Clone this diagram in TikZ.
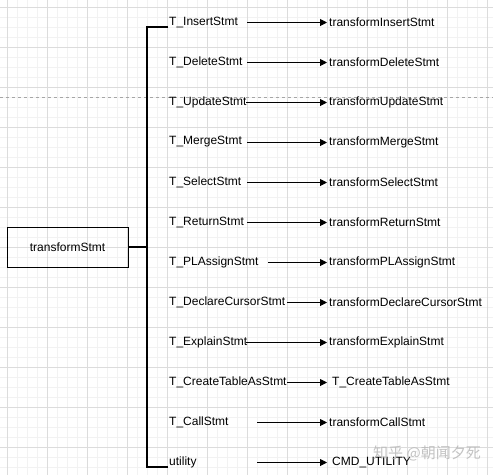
\documentclass[tikz,border=0pt]{standalone}
\usepackage{fontspec}
\setmainfont{Liberation Sans}
\newfontfamily\cjk{Noto Sans CJK SC}
\usetikzlibrary{arrows.meta}
\definecolor{gridmajor}{HTML}{DCDCDC}
\definecolor{gridminor}{HTML}{F2F2F2}
\definecolor{wm}{HTML}{B8B8B8}
\tikzset{
  lbl/.style={anchor=west,inner sep=2pt,font=\fontsize{12}{14}\selectfont},
  boxnode/.style={draw,line width=1pt,minimum width=121pt,minimum height=40pt,inner sep=0pt,font=\fontsize{12}{14}\selectfont},
  arr/.style={line width=1pt,-{Triangle[length=7pt,width=7pt]}},
  bracket/.style={line width=2.2pt},
}
\begin{document}
\begin{tikzpicture}[x=1pt,y=-1pt]
\useasboundingbox (0,0) rectangle (493,475);
\fill[white] (0,0) rectangle (493,475);
% grid
\foreach \i in {0,...,49} {\draw[gridminor,line width=0.5pt] ({-3+10*\i},0) -- ({-3+10*\i},475);}
\foreach \i in {0,...,47} {\draw[gridminor,line width=0.5pt] (0,{-3+10*\i}) -- (493,{-3+10*\i});}
\foreach \i in {0,...,12} {\draw[gridmajor,line width=0.8pt] ({7+40*\i},0) -- ({7+40*\i},475);}
\foreach \i in {0,...,11} {\draw[gridmajor,line width=0.8pt] (0,{7+40*\i}) -- (493,{7+40*\i});}
\draw[gray!70,dashed,line width=0.6pt,dash pattern=on 3pt off 3pt] (0,97) -- (493,97);

% root box
\node[boxnode] (root) at (67.5,247) {transformStmt};
\coordinate (bar) at (147,247);
\coordinate (btop) at (147,27);
\coordinate (bbot) at (147,467);
\coordinate (ttop) at (168,27);
\coordinate (tbot) at (168,467);
\draw[bracket] (ttop) -- (btop) -- (bbot) -- (tbot);
\draw[bracket] (root.east) -- (bar);

% rows
\foreach \k/\l/\r/\sx/\pad in {
  1/T\_InsertStmt/transformInsertStmt/247/2,
  2/T\_DeleteStmt/transformDeleteStmt/247/2,
  3/T\_UpdateStmt/transformUpdateStmt/246/2,
  4/T\_MergeStmt/transformMergeStmt/247/2,
  5/T\_SelectStmt/transformSelectStmt/247/2,
  6/T\_ReturnStmt/transformReturnStmt/247/2,
  7/T\_PLAssignStmt/transformPLAssignStmt/268/2,
  8/T\_DeclareCursorStmt/transformDeclareCursorStmt/287/2,
  9/T\_ExplainStmt/transformExplainStmt/246/2,
  10/T\_CreateTableAsStmt/T\_CreateTableAsStmt/287/5,
  11/T\_CallStmt/transformCallStmt/257/2,
  12/utility/CMD\_UTILITY/257/5}
{
  \node[lbl] (l\k) at (167,{22+40*(\k-1)}) {\l};
  \node[lbl,inner xsep=\pad pt] (r\k) at (327,{22+40*(\k-1)}) {\r};
  \coordinate (s\k) at (\sx,{22.5+40*(\k-1)});
  \draw[arr] (s\k) -- (s\k -| r\k.west);
}

% watermark
\node[text=wm,opacity=0.85,font=\cjk\fontsize{15}{17}\selectfont,anchor=west,inner sep=0pt] (wmark) at (373,453) {知乎 @朝闻夕死};
\end{tikzpicture}
\end{document}
